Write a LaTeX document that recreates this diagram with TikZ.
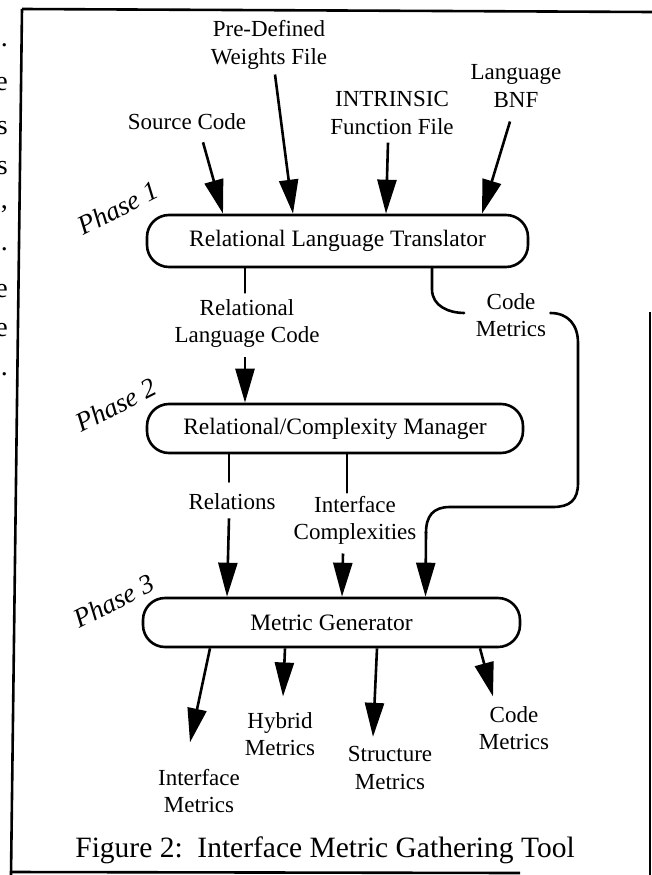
\documentclass[tikz,border=0pt]{standalone}
\usepackage{fontspec}
\setmainfont{Liberation Serif}
\usetikzlibrary{arrows.meta,calc}
\begin{document}
\begin{tikzpicture}[x=1pt,y=-1pt,
  ln/.style={line width=2.6pt, line cap=round},
  arr/.style={line width=2.6pt, -{Triangle[length=34pt,width=19pt]}},
  frame/.style={line width=2.6pt},
  box/.style={draw, line width=2.6pt, rounded corners=22pt, inner sep=0pt,
              font=\fontsize{23.5}{28}\selectfont},
  lbl/.style={inner sep=0pt, align=center, font=\fontsize{23}{27.5}\selectfont},
  phase/.style={inner sep=0pt, font=\fontsize{27}{32}\selectfont\itshape, rotate=27},
  stray/.style={inner sep=0pt, anchor=base east, font=\fontsize{28}{30}\selectfont},
  ]
\useasboundingbox (0,0) rectangle (652,875);

% frame
\draw[frame] (22,9) -- (652,12);
\draw[frame] (22,9) -- (11,875);
\draw[frame] (11,872) -- (520,873);
\draw[frame] (650,312) -- (650,875);

% stray characters of the neighbouring page text
\node[stray] (s1) at (8,47) {.};
\node[stray] (s2) at (8,90) {e};
\node[stray] (s3) at (8,134) {s};
\node[stray] (s4) at (8,174) {s};
\node[stray] (s5) at (8,208) {,};
\node[stray] (s6) at (8,250) {.};
\node[stray] (s7) at (8,297) {e};
\node[stray] (s8) at (8,336) {e};
\node[stray] (s9) at (8,375) {.};

% boxes
\node[box, minimum width=381pt, minimum height=52pt] (b1) at (337.5,241) {Relational Language Translator};
\node[box, minimum width=376pt, minimum height=49pt] (b2) at (335,428.5) {Relational/Complexity Manager};
\node[box, minimum width=377pt, minimum height=49pt] (b3) at (331.5,622.5) {Metric Generator};

% phase labels
\node[phase] (p1) at (118,208) {Phase 1};
\node[phase] (p2) at (116,405) {Phase 2};
\node[phase] (p3) at (114,601) {Phase 3};

% labels
\node[lbl] (sc) at (187,122) {Source Code};
\node[lbl] (pw) at (269,45) {Pre-Defined\\Weights File};
\node[lbl] (intr) at (392,113) {INTRINSIC\\Function File};
\node[lbl] (lb) at (516,86) {Language\\BNF};
\node[lbl] (rlc) at (247,323.5) {Relational\\Language Code};
\node[lbl] (cm1) at (511,315) {Code\\Metrics};
\node[lbl] (rel) at (232,502) {Relations};
\node[lbl] (ic) at (355,520.5) {Interface\\Complexities};
\node[lbl] (im) at (199,791) {Interface\\Metrics};
\node[lbl] (hm) at (280,734) {Hybrid\\Metrics};
\node[lbl] (stm) at (390,768) {Structure\\Metrics};
\node[lbl] (cm2) at (514,728) {Code\\Metrics};

% caption
\node[inner sep=0pt, font=\fontsize{29.5}{34}\selectfont] (cap) at (325,850) {Figure 2:\ \ Interface Metric Gathering Tool};

% inputs to phase 1
\draw[arr] ($(sc.south)+(16,12)$) -- ($(b1.north)+(-114.5,0)$);
\draw[arr] ($(pw.south)+(6,5)$) -- ($(b1.north)+(-44.5,0)$);
\draw[arr] ($(intr.south)+(-4,8)$) -- ($(b1.north)+(48.5,0)$);
\draw[arr] ($(lb.south)+(-6,14)$) -- ($(b1.north)+(144.5,0)$);

% phase 1 -> phase 2
\draw[ln] ($(b1.south)+(-92.5,0)$) -- ($(rlc.north)+(-2,-6.5)$);
\draw[arr] ($(rlc.south)+(-2,9.5)$) -- ($(b2.north)+(-90,0)$);

% code metrics loop
\draw[ln] ($(b1.south)+(94.5,0)$) -- ++(0,21)
  .. controls +(0,17) and +(-15,0) .. ($(cm1.west)+(-11.5,-2)$);
\draw[ln] ($(cm1.east)+(4,-2)$)
  .. controls +(18,0) and +(0,-18) .. (578,343)
  -- (578,483)
  .. controls +(0,17) and +(17,0) .. (553,507)
  -- (450,507)
  .. controls +(-17,0) and +(0,-17) .. (426,533);
\draw[arr] (426,532) -- ($(b3.north)+(94,0)$);

% phase 2 -> phase 3
\draw[ln] ($(b2.south)+(-106,0)$) -- ($(rel.north)+(-3,-12)$);
\draw[arr] ($(rel.south)+(-3,8)$) -- ($(b3.north)+(-104.5,0)$);
\draw[ln] ($(b2.south)+(12,0)$) -- ($(ic.north)+(-8,-3.5)$);
\draw[arr] ($(ic.south)+(-12,8.5)$) -- ($(b3.north)+(10.5,0)$);

% outputs
\draw[arr] ($(b3.south)+(-121.5,0)$) -- ($(im.north)+(-9,-26.5)$);
\draw[arr] ($(b3.south)+(-46.5,0)$) -- ($(hm.north)+(3,-15.5)$);
\draw[arr] ($(b3.south)+(45.5,0)$) -- ($(stm.north)+(-17,-9.5)$);
\draw[arr] ($(b3.south)+(148.5,0)$) -- ($(cm2.north)+(-21,-9.5)$);
\end{tikzpicture}
\end{document}
